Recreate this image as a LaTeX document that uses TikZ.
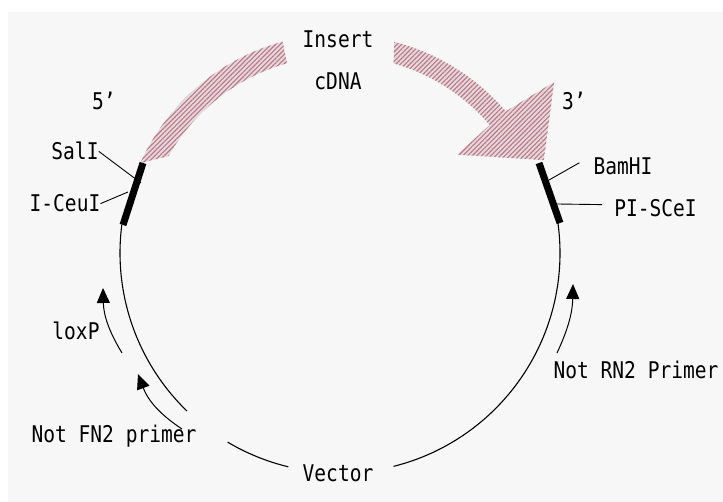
\documentclass[tikz,border=0pt]{standalone}
\usepackage{fontspec}
\newfontfamily\lblfont[FakeStretch=0.85]{DejaVu Sans Mono}
\usetikzlibrary{arrows.meta,patterns.meta}
\definecolor{paper}{HTML}{F7F7F7}
\definecolor{hatchline}{RGB}{196,118,116}
\definecolor{hatchback}{RGB}{224,218,232}
\tikzset{
  lbl/.style={anchor=base,inner sep=0pt,font=\fontsize{23}{26}\selectfont\lblfont},
  vec/.style={line width=1.1pt},
  site/.style={line width=7pt},
  lead/.style={line width=0.9pt},
  primer/.style={line width=1pt,-{Triangle[length=15pt,width=13pt]}},
  insert/.style={pattern={Lines[angle=45,distance=3.3pt,line width=1.1pt]},
    pattern color=hatchline,preaction={fill=hatchback}}
}
\begin{document}
\begin{tikzpicture}[x=1pt,y=1pt]
  \useasboundingbox (0,0) rectangle (723,502);
  \fill[paper] (8,0) rectangle (723,490);
  % insert band and the vector circle
  \begin{scope}[shift={(340,249)}]
    \fill[insert] (155.8:219) arc[start angle=155.8,end angle=105.2,radius=219]
      -- (105.6:197) arc[start angle=105.6,end angle=150.5,radius=197] -- cycle;
    \fill[insert] (75.6:218) arc[start angle=75.6,end angle=40.5,radius=218]
      -- (38.6:274) -- (24.5:224) -- (40:153)
      -- (40.5:197) arc[start angle=40.5,end angle=74.2,radius=197] -- cycle;
    \draw[vec] (172.7:220) arc[start angle=172.7,end angle=225.9,radius=220];
    \draw[vec] (239.3:220) arc[start angle=239.3,end angle=256.4,radius=220];
    \draw[vec] (284.1:220) arc[start angle=284.1,end angle=367.7,radius=220];
  \end{scope}
  \draw[site] (143,339) -- (123,277);
  \draw[site] (539,339) -- (560,279);
  % labels
  \node[lbl] (ins) at (338,454) {Insert};
  \node[lbl] (cdna) at (338,412) {cDNA};
  \node[lbl] (five) at (104,392) {5’};
  \node[lbl] (three) at (574,392) {3’};
  \node[lbl] (sal) at (75,342) {SalI};
  \node[lbl] (ceu) at (65,290) {I-CeuI};
  \node[lbl] (bam) at (623,327) {BamHI};
  \node[lbl] (sce) at (655.5,285) {PI-SCeI};
  \node[lbl] (lox) at (76,162) {loxP};
  \node[lbl] (fn2) at (114,59) {Not FN2 primer};
  \node[lbl] (rn2) at (636,123) {Not RN2 Primer};
  \node[lbl] (vector) at (338,20) {Vector};
  % leaders to the sites
  \coordinate (salpt) at (141,319);
  \coordinate (ceupt) at (128,310);
  \coordinate (bampt) at (549,322);
  \coordinate (scept) at (557,298);
  \draw[lead] (sal.east) -- (salpt);
  \draw[lead] (ceu.east) -- (ceupt);
  \draw[lead] (bampt) -- ([xshift=-14pt,yshift=4pt]bam.west);
  \draw[lead] (scept) -- ([xshift=-12pt,yshift=4pt]sce.west);
  % primers
  \coordinate (loxs) at (122,149);
  \coordinate (loxt) at (103,214);
  \coordinate (fn2s) at (182,73);
  \coordinate (fn2t) at (138,128);
  \coordinate (rn2s) at (557,149);
  \coordinate (rn2t) at (573,218);
  \draw[primer] (loxs) to[bend left=15] (loxt);
  \draw[primer] (fn2s) to[bend left=18] (fn2t);
  \draw[primer] (rn2s) to[bend right=12] (rn2t);
\end{tikzpicture}
\end{document}
